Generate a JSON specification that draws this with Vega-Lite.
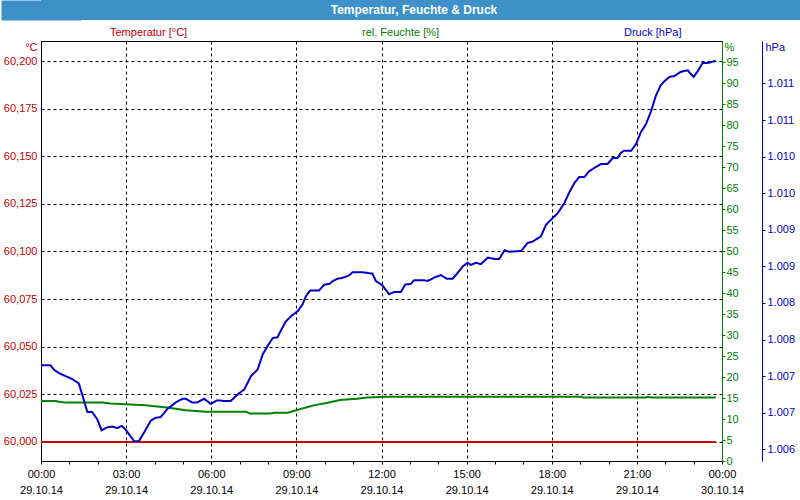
{
  "$schema": "https://vega.github.io/schema/vega-lite/v6.json",
  "background": "white",
  "padding": 0,
  "spacing": 20,
  "config": {"font": "Liberation Sans", "view": {"stroke": null}},
  "datasets": {
    "temp": [
      {"t": "2014-10-29T00:00", "temp": 60.0},
      {"t": "2014-10-29T23:47", "temp": 60.0}
    ],
    "hum": [
      {"t": "2014-10-29T00:00", "h": 14.3},
      {"t": "2014-10-29T00:31", "h": 14.3},
      {"t": "2014-10-29T00:38", "h": 14.1},
      {"t": "2014-10-29T00:52", "h": 13.9},
      {"t": "2014-10-29T02:10", "h": 13.9},
      {"t": "2014-10-29T02:27", "h": 13.7},
      {"t": "2014-10-29T03:41", "h": 13.3},
      {"t": "2014-10-29T04:31", "h": 12.7},
      {"t": "2014-10-29T05:06", "h": 12.1},
      {"t": "2014-10-29T05:48", "h": 11.7},
      {"t": "2014-10-29T07:14", "h": 11.7},
      {"t": "2014-10-29T07:21", "h": 11.3},
      {"t": "2014-10-29T08:05", "h": 11.3},
      {"t": "2014-10-29T08:13", "h": 11.5},
      {"t": "2014-10-29T08:42", "h": 11.5},
      {"t": "2014-10-29T09:00", "h": 12.1},
      {"t": "2014-10-29T09:22", "h": 12.8},
      {"t": "2014-10-29T09:39", "h": 13.3},
      {"t": "2014-10-29T10:04", "h": 13.8},
      {"t": "2014-10-29T10:32", "h": 14.5},
      {"t": "2014-10-29T11:08", "h": 14.8},
      {"t": "2014-10-29T11:29", "h": 15.1},
      {"t": "2014-10-29T12:11", "h": 15.3},
      {"t": "2014-10-29T19:03", "h": 15.3},
      {"t": "2014-10-29T19:06", "h": 15.1},
      {"t": "2014-10-29T21:19", "h": 15.1},
      {"t": "2014-10-29T21:22", "h": 15.3},
      {"t": "2014-10-29T21:30", "h": 15.1},
      {"t": "2014-10-29T23:47", "h": 15.1}
    ],
    "press": [
      {"t": "2014-10-29T00:00", "p": 1007.15},
      {"t": "2014-10-29T00:20", "p": 1007.15},
      {"t": "2014-10-29T00:27", "p": 1007.09},
      {"t": "2014-10-29T00:38", "p": 1007.04},
      {"t": "2014-10-29T00:52", "p": 1007.00},
      {"t": "2014-10-29T01:06", "p": 1006.96},
      {"t": "2014-10-29T01:20", "p": 1006.90},
      {"t": "2014-10-29T01:27", "p": 1006.75},
      {"t": "2014-10-29T01:38", "p": 1006.51},
      {"t": "2014-10-29T01:48", "p": 1006.51},
      {"t": "2014-10-29T01:59", "p": 1006.41},
      {"t": "2014-10-29T02:08", "p": 1006.26},
      {"t": "2014-10-29T02:20", "p": 1006.30},
      {"t": "2014-10-29T02:31", "p": 1006.31},
      {"t": "2014-10-29T02:41", "p": 1006.29},
      {"t": "2014-10-29T02:51", "p": 1006.32},
      {"t": "2014-10-29T03:00", "p": 1006.26},
      {"t": "2014-10-29T03:17", "p": 1006.11},
      {"t": "2014-10-29T03:27", "p": 1006.11},
      {"t": "2014-10-29T03:38", "p": 1006.23},
      {"t": "2014-10-29T03:52", "p": 1006.39},
      {"t": "2014-10-29T04:02", "p": 1006.43},
      {"t": "2014-10-29T04:13", "p": 1006.44},
      {"t": "2014-10-29T04:27", "p": 1006.55},
      {"t": "2014-10-29T04:45", "p": 1006.64},
      {"t": "2014-10-29T04:59", "p": 1006.69},
      {"t": "2014-10-29T05:06", "p": 1006.69},
      {"t": "2014-10-29T05:20", "p": 1006.64},
      {"t": "2014-10-29T05:30", "p": 1006.64},
      {"t": "2014-10-29T05:45", "p": 1006.69},
      {"t": "2014-10-29T05:59", "p": 1006.62},
      {"t": "2014-10-29T06:13", "p": 1006.67},
      {"t": "2014-10-29T06:27", "p": 1006.66},
      {"t": "2014-10-29T06:41", "p": 1006.66},
      {"t": "2014-10-29T06:56", "p": 1006.75},
      {"t": "2014-10-29T07:10", "p": 1006.82},
      {"t": "2014-10-29T07:24", "p": 1007.00},
      {"t": "2014-10-29T07:38", "p": 1007.09},
      {"t": "2014-10-29T07:49", "p": 1007.30},
      {"t": "2014-10-29T07:59", "p": 1007.41},
      {"t": "2014-10-29T08:10", "p": 1007.52},
      {"t": "2014-10-29T08:20", "p": 1007.53},
      {"t": "2014-10-29T08:27", "p": 1007.62},
      {"t": "2014-10-29T08:38", "p": 1007.75},
      {"t": "2014-10-29T08:49", "p": 1007.82},
      {"t": "2014-10-29T09:03", "p": 1007.89},
      {"t": "2014-10-29T09:13", "p": 1007.98},
      {"t": "2014-10-29T09:20", "p": 1008.09},
      {"t": "2014-10-29T09:29", "p": 1008.17},
      {"t": "2014-10-29T09:48", "p": 1008.17},
      {"t": "2014-10-29T09:59", "p": 1008.25},
      {"t": "2014-10-29T10:10", "p": 1008.26},
      {"t": "2014-10-29T10:17", "p": 1008.30},
      {"t": "2014-10-29T10:27", "p": 1008.33},
      {"t": "2014-10-29T10:41", "p": 1008.35},
      {"t": "2014-10-29T10:52", "p": 1008.38},
      {"t": "2014-10-29T10:59", "p": 1008.42},
      {"t": "2014-10-29T11:20", "p": 1008.42},
      {"t": "2014-10-29T11:41", "p": 1008.40},
      {"t": "2014-10-29T11:48", "p": 1008.30},
      {"t": "2014-10-29T12:02", "p": 1008.24},
      {"t": "2014-10-29T12:16", "p": 1008.12},
      {"t": "2014-10-29T12:27", "p": 1008.15},
      {"t": "2014-10-29T12:41", "p": 1008.15},
      {"t": "2014-10-29T12:50", "p": 1008.25},
      {"t": "2014-10-29T13:02", "p": 1008.26},
      {"t": "2014-10-29T13:09", "p": 1008.31},
      {"t": "2014-10-29T13:30", "p": 1008.31},
      {"t": "2014-10-29T13:38", "p": 1008.30},
      {"t": "2014-10-29T13:52", "p": 1008.35},
      {"t": "2014-10-29T14:06", "p": 1008.38},
      {"t": "2014-10-29T14:18", "p": 1008.33},
      {"t": "2014-10-29T14:30", "p": 1008.33},
      {"t": "2014-10-29T14:41", "p": 1008.41},
      {"t": "2014-10-29T14:52", "p": 1008.50},
      {"t": "2014-10-29T15:02", "p": 1008.55},
      {"t": "2014-10-29T15:09", "p": 1008.52},
      {"t": "2014-10-29T15:20", "p": 1008.55},
      {"t": "2014-10-29T15:30", "p": 1008.53},
      {"t": "2014-10-29T15:45", "p": 1008.62},
      {"t": "2014-10-29T15:59", "p": 1008.60},
      {"t": "2014-10-29T16:09", "p": 1008.60},
      {"t": "2014-10-29T16:20", "p": 1008.72},
      {"t": "2014-10-29T16:30", "p": 1008.70},
      {"t": "2014-10-29T16:55", "p": 1008.71},
      {"t": "2014-10-29T17:09", "p": 1008.82},
      {"t": "2014-10-29T17:20", "p": 1008.84},
      {"t": "2014-10-29T17:37", "p": 1008.91},
      {"t": "2014-10-29T17:48", "p": 1009.07},
      {"t": "2014-10-29T18:02", "p": 1009.16},
      {"t": "2014-10-29T18:13", "p": 1009.23},
      {"t": "2014-10-29T18:27", "p": 1009.37},
      {"t": "2014-10-29T18:37", "p": 1009.51},
      {"t": "2014-10-29T18:48", "p": 1009.64},
      {"t": "2014-10-29T18:58", "p": 1009.72},
      {"t": "2014-10-29T19:09", "p": 1009.72},
      {"t": "2014-10-29T19:19", "p": 1009.80},
      {"t": "2014-10-29T19:44", "p": 1009.90},
      {"t": "2014-10-29T19:58", "p": 1009.90},
      {"t": "2014-10-29T20:09", "p": 1009.98},
      {"t": "2014-10-29T20:19", "p": 1009.98},
      {"t": "2014-10-29T20:26", "p": 1010.05},
      {"t": "2014-10-29T20:33", "p": 1010.08},
      {"t": "2014-10-29T20:48", "p": 1010.08},
      {"t": "2014-10-29T20:58", "p": 1010.17},
      {"t": "2014-10-29T21:09", "p": 1010.34},
      {"t": "2014-10-29T21:19", "p": 1010.44},
      {"t": "2014-10-29T21:30", "p": 1010.62},
      {"t": "2014-10-29T21:40", "p": 1010.83},
      {"t": "2014-10-29T21:50", "p": 1010.97},
      {"t": "2014-10-29T21:58", "p": 1011.03},
      {"t": "2014-10-29T22:09", "p": 1011.09},
      {"t": "2014-10-29T22:19", "p": 1011.10},
      {"t": "2014-10-29T22:33", "p": 1011.16},
      {"t": "2014-10-29T22:48", "p": 1011.18},
      {"t": "2014-10-29T22:51", "p": 1011.15},
      {"t": "2014-10-29T23:00", "p": 1011.09},
      {"t": "2014-10-29T23:09", "p": 1011.17},
      {"t": "2014-10-29T23:19", "p": 1011.28},
      {"t": "2014-10-29T23:30", "p": 1011.28},
      {"t": "2014-10-29T23:47", "p": 1011.31}
    ]
  },
  "vconcat": [
    {
      "width": 760,
      "height": 20,
      "view": {"fill": "#3d90c8", "stroke": null},
      "data": {"values": [{"title": "Temperatur, Feuchte & Druck"}]},
      "mark": {"type": "text", "color": "white", "fontWeight": "bold", "fontSize": 12, "dx": -7},
      "encoding": {
        "text": {"field": "title"},
        "y": {
          "datum": 0.5, "type": "quantitative",
          "scale": {"domain": [0, 1]},
          "axis": {
            "title": null, "labels": false, "ticks": false, "grid": false,
            "domainColor": "#3d90c8", "domainWidth": 80, "minExtent": 0, "maxExtent": 0
          }
        }
      }
    },
    {
      "width": 681,
      "height": 420,
      "view": {"stroke": "black", "strokeWidth": 1},
      "resolve": {"scale": {"y": "independent"}, "axis": {"x": "independent"}},
      "layer": [
        {
          "data": {"name": "temp"},
          "mark": {"type": "line", "strokeWidth": 2},
          "encoding": {
            "x": {
              "field": "t", "type": "temporal",
              "scale": {"domain": [{"year": 2014, "month": 10, "date": 29, "hours": 0}, {"year": 2014, "month": 10, "date": 30, "hours": 0}]},
              "axis": {
                "orient": "bottom",
                "title": null,
                "values": [
                  {"year": 2014, "month": 10, "date": 29, "hours": 0},
                  {"year": 2014, "month": 10, "date": 29, "hours": 3},
                  {"year": 2014, "month": 10, "date": 29, "hours": 6},
                  {"year": 2014, "month": 10, "date": 29, "hours": 9},
                  {"year": 2014, "month": 10, "date": 29, "hours": 12},
                  {"year": 2014, "month": 10, "date": 29, "hours": 15},
                  {"year": 2014, "month": 10, "date": 29, "hours": 18},
                  {"year": 2014, "month": 10, "date": 29, "hours": 21},
                  {"year": 2014, "month": 10, "date": 30, "hours": 0}
                ],
                "format": "%H:%M",
                "labelOverlap": false,
                "labelFlush": false,
                "labelColor": "black",
                "labelFontSize": 11,
                "labelPadding": 4,
                "tickSize": 3,
                "tickColor": "black",
                "domainColor": "black",
                "grid": true,
                "gridColor": "black",
                "gridOpacity": 1,
                "gridDash": [3, 3]
              }
            },
            "y": {
              "field": "temp", "type": "quantitative",
              "scale": {"domain": [59.99, 60.2105], "nice": false, "zero": false},
              "axis": {
                "title": "°C",
                "titleAngle": 0, "titleAlign": "right", "titleBaseline": "middle",
                "titleX": -4, "titleY": 6,
                "titleColor": "#c00000", "titleFontWeight": "normal", "titleFontSize": 11,
                "values": [60, 60.025, 60.05, 60.075, 60.1, 60.125, 60.15, 60.175, 60.2],
                "labelExpr": "replace(format(datum.value, '.3f'), '.', ',')",
                "labelColor": "#c00000", "labelFontSize": 11, "labelPadding": 4,
                "ticks": false,
                "domainColor": "black",
                "grid": true, "gridColor": "black", "gridOpacity": 1, "gridDash": [3, 3],
                "minExtent": 40, "maxExtent": 40
              }
            },
            "color": {
              "datum": "Temperatur [°C]",
              "scale": {"domain": ["Temperatur [°C]"], "range": ["#d00000"]},
              "legend": {
                "orient": "none", "legendX": 58, "legendY": 27,
                "title": null, "symbolSize": 0, "symbolOpacity": 0, "symbolStrokeWidth": 0,
                "labelOffset": 0, "labelFontSize": 11, "labelColor": "#c00000", "padding": 0
              }
            }
          }
        },
        {
          "data": {"name": "hum"},
          "mark": {"type": "line", "strokeWidth": 2},
          "encoding": {
            "x": {
              "field": "t", "type": "temporal",
              "axis": {
                "orient": "bottom",
                "title": null,
                "values": [
                  {"year": 2014, "month": 10, "date": 29, "hours": 0},
                  {"year": 2014, "month": 10, "date": 29, "hours": 3},
                  {"year": 2014, "month": 10, "date": 29, "hours": 6},
                  {"year": 2014, "month": 10, "date": 29, "hours": 9},
                  {"year": 2014, "month": 10, "date": 29, "hours": 12},
                  {"year": 2014, "month": 10, "date": 29, "hours": 15},
                  {"year": 2014, "month": 10, "date": 29, "hours": 18},
                  {"year": 2014, "month": 10, "date": 29, "hours": 21},
                  {"year": 2014, "month": 10, "date": 30, "hours": 0}
                ],
                "format": "%d.%m.%y",
                "labelOverlap": false,
                "labelFlush": false,
                "labelColor": "black",
                "labelFontSize": 11,
                "labelPadding": 20,
                "tickSize": 3,
                "tickOpacity": 0,
                "domain": false,
                "grid": false
              }
            },
            "y": {
              "field": "h", "type": "quantitative",
              "scale": {"domain": [0, 100], "nice": false},
              "axis": {
                "orient": "right",
                "title": "%",
                "titleAngle": 0, "titleAlign": "left", "titleBaseline": "middle",
                "titleX": 2, "titleY": 6,
                "titleColor": "#008000", "titleFontWeight": "normal", "titleFontSize": 11,
                "values": [0, 5, 10, 15, 20, 25, 30, 35, 40, 45, 50, 55, 60, 65, 70, 75, 80, 85, 90, 95],
                "labelColor": "#008000", "labelFontSize": 11, "labelPadding": 1,
                "tickColor": "#008000", "tickSize": 3,
                "domainColor": "#008000",
                "grid": false
              }
            },
            "stroke": {
              "datum": "rel. Feuchte [%]",
              "scale": {"domain": ["rel. Feuchte [%]"], "range": ["#008000"]},
              "legend": {
                "orient": "none", "legendX": 310, "legendY": 27,
                "title": null, "symbolSize": 0, "symbolOpacity": 0, "symbolStrokeWidth": 0,
                "labelOffset": 0, "labelFontSize": 11, "labelColor": "#008000", "padding": 0
              }
            }
          }
        },
        {
          "data": {"name": "press"},
          "mark": {"type": "line", "strokeWidth": 2, "color": "#0000c8"},
          "encoding": {
            "x": {
              "field": "t", "type": "temporal",
              "axis": {
                "orient": "bottom",
                "title": null,
                "values": [
                  {"year": 2014, "month": 10, "date": 29, "hours": 1},
                  {"year": 2014, "month": 10, "date": 29, "hours": 2},
                  {"year": 2014, "month": 10, "date": 29, "hours": 4},
                  {"year": 2014, "month": 10, "date": 29, "hours": 5},
                  {"year": 2014, "month": 10, "date": 29, "hours": 7},
                  {"year": 2014, "month": 10, "date": 29, "hours": 8},
                  {"year": 2014, "month": 10, "date": 29, "hours": 10},
                  {"year": 2014, "month": 10, "date": 29, "hours": 11},
                  {"year": 2014, "month": 10, "date": 29, "hours": 13},
                  {"year": 2014, "month": 10, "date": 29, "hours": 14},
                  {"year": 2014, "month": 10, "date": 29, "hours": 16},
                  {"year": 2014, "month": 10, "date": 29, "hours": 17},
                  {"year": 2014, "month": 10, "date": 29, "hours": 19},
                  {"year": 2014, "month": 10, "date": 29, "hours": 20},
                  {"year": 2014, "month": 10, "date": 29, "hours": 22},
                  {"year": 2014, "month": 10, "date": 29, "hours": 23}
                ],
                "labels": false,
                "tickSize": 3,
                "tickColor": "black",
                "domain": false,
                "grid": false
              }
            },
            "y": {
              "field": "p", "type": "quantitative",
              "scale": {"domain": [1005.84, 1011.58], "nice": false, "zero": false},
              "axis": {
                "orient": "right",
                "offset": 40,
                "title": "hPa",
                "titleAngle": 0, "titleAlign": "left", "titleBaseline": "middle",
                "titleX": 3, "titleY": 6,
                "titleColor": "#0000c8", "titleFontWeight": "normal", "titleFontSize": 11,
                "values": [1006, 1006.5, 1007, 1007.5, 1008, 1008.5, 1009, 1009.5, 1010, 1010.5, 1011],
                "labelExpr": "replace(format(round(datum.value), ','), ',', '.')",
                "labelColor": "#0000c8", "labelFontSize": 11, "labelPadding": 2,
                "tickColor": "#0000c8", "tickSize": 3,
                "domainColor": "#0000c8",
                "grid": false
              }
            },
            "strokeDash": {
              "datum": "Druck [hPa]",
              "scale": {"domain": ["Druck [hPa]"], "range": [[1, 0]]},
              "legend": {
                "orient": "none", "legendX": 572, "legendY": 27,
                "title": null, "symbolSize": 0, "symbolOpacity": 0, "symbolStrokeWidth": 0,
                "labelOffset": 0, "labelFontSize": 11, "labelColor": "#0000c8", "padding": 0
              }
            }
          }
        }
      ]
    }
  ]
}
